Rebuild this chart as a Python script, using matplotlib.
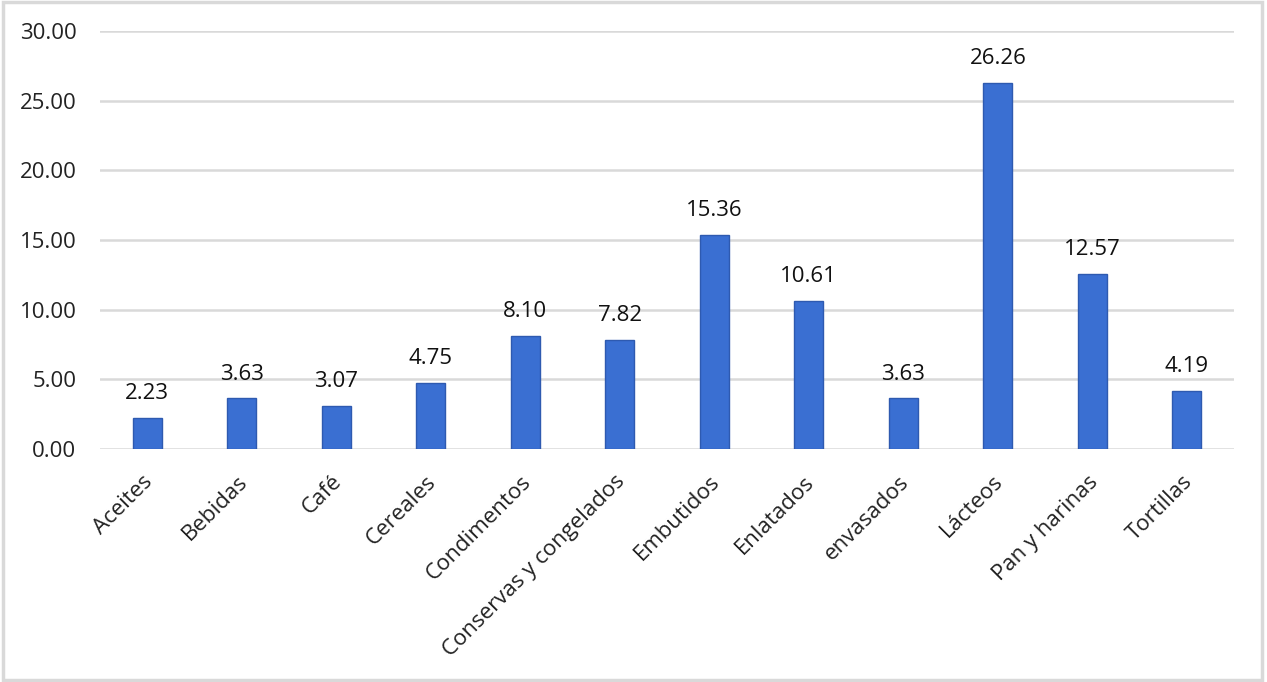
import matplotlib.pyplot as plt
import matplotlib.transforms as mtransforms
from matplotlib.patches import Rectangle

categorias = ['Aceites', 'Bebidas', 'Café', 'Cereales', 'Condimentos',
              'Conservas y congelados', 'Embutidos', 'Enlatados', 'envasados',
              'Lácteos', 'Pan y harinas', 'Tortillas']
valores = [2.23, 3.63, 3.07, 4.75, 8.10, 7.82, 15.36, 10.61, 3.63, 26.26, 12.57, 4.19]
ticks_y = [0, 5, 10, 15, 20, 25, 30]

plt.rcParams['font.family'] = ['Open Sans', 'DejaVu Sans']

fig = plt.figure(figsize=(12.67, 6.82), dpi=100)
ax = fig.add_axes([0.079, 0.3416, 0.895, 0.6129])

x = range(len(categorias))
ax.bar(x, valores, width=0.31, color='#3A6FD2', edgecolor='#2E5AB0', linewidth=1, zorder=3)
for xi, v in zip(x, valores):
    ax.text(xi, v + 1.0, f'{v:.2f}', ha='center', va='bottom', fontsize=16, color='#111111')

ax.set_ylim(0, 30)
ax.set_xlim(-0.5, len(categorias) - 0.5)
ax.set_yticks(ticks_y)
ax.set_yticklabels([f'{t:.2f}' for t in ticks_y], fontsize=16, color='#222222')
ax.set_xticks(list(x))
ax.set_xticklabels(categorias, rotation=45, ha='right', rotation_mode='anchor', fontsize=16, color='#222222')
ax.tick_params(axis='both', length=0)
ax.tick_params(axis='y', pad=17)
ax.tick_params(axis='x', pad=16)
# pequeño ajuste horizontal de las etiquetas rotadas
desplaz = mtransforms.ScaledTranslation(-5 / 100, 0, fig.dpi_scale_trans)
for lbl in ax.get_xticklabels():
    lbl.set_transform(lbl.get_transform() + desplaz)
ax.grid(axis='y', color='#D9D9D9', linewidth=1.8, zorder=0)
for s in ax.spines.values():
    s.set_visible(False)

# borde gris alrededor de la figura
fig.patches.append(Rectangle((0.002, 0.003), 0.994, 0.994, transform=fig.transFigure,
                             fill=False, edgecolor='#D9D9D9', linewidth=2.5))

plt.savefig('out.png', dpi=100)
plt.close()
